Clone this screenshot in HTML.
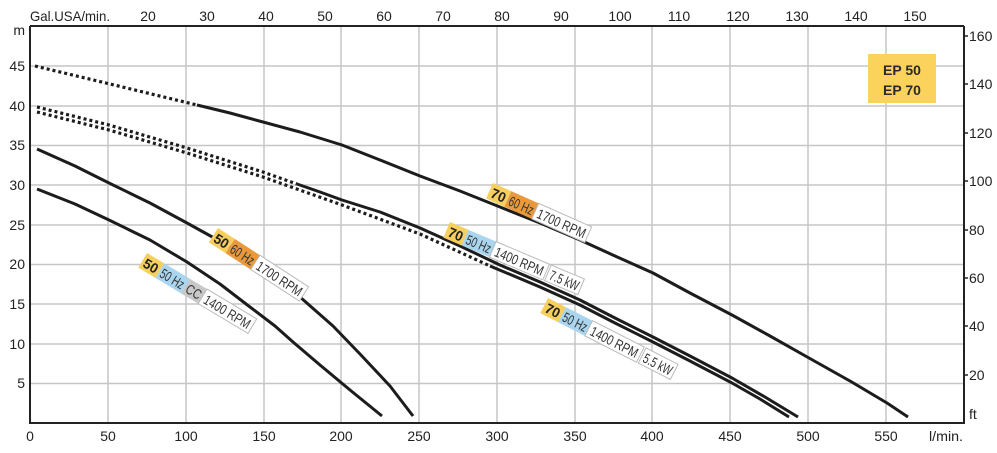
<!DOCTYPE html>
<html><head><meta charset="utf-8"><style>
html,body{margin:0;padding:0;background:#fff;}
svg{display:block;font-family:"Liberation Sans",sans-serif;}
</style></head><body>
<svg width="997" height="453" viewBox="0 0 997 453" xmlns="http://www.w3.org/2000/svg">
<g stroke="#c6c6c6" stroke-width="1.5">
<line x1="108" y1="26" x2="108" y2="423"/><line x1="186" y1="26" x2="186" y2="423"/><line x1="264" y1="26" x2="264" y2="423"/><line x1="341" y1="26" x2="341" y2="423"/><line x1="419" y1="26" x2="419" y2="423"/><line x1="497" y1="26" x2="497" y2="423"/><line x1="575" y1="26" x2="575" y2="423"/><line x1="652" y1="26" x2="652" y2="423"/><line x1="730" y1="26" x2="730" y2="423"/><line x1="808" y1="26" x2="808" y2="423"/><line x1="886" y1="26" x2="886" y2="423"/>
<line x1="30" y1="66" x2="964" y2="66"/><line x1="30" y1="106" x2="964" y2="106"/><line x1="30" y1="145.5" x2="964" y2="145.5"/><line x1="30" y1="185" x2="964" y2="185"/><line x1="30" y1="225" x2="964" y2="225"/><line x1="30" y1="264.5" x2="964" y2="264.5"/><line x1="30" y1="304" x2="964" y2="304"/><line x1="30" y1="344" x2="964" y2="344"/><line x1="30" y1="383.5" x2="964" y2="383.5"/>
</g>
<g stroke="#222" stroke-width="2" fill="none">
<polyline points="30,26 30,423 964,423 964,26"/>
<line x1="30" y1="26" x2="964" y2="26"/>
</g>
<g stroke="#222" stroke-width="1.5">
<line x1="964" y1="36" x2="968" y2="36"/><line x1="964" y1="84" x2="968" y2="84"/><line x1="964" y1="133" x2="968" y2="133"/><line x1="964" y1="181" x2="968" y2="181"/><line x1="964" y1="230" x2="968" y2="230"/><line x1="964" y1="278" x2="968" y2="278"/><line x1="964" y1="326" x2="968" y2="326"/><line x1="964" y1="375" x2="968" y2="375"/>
</g>
<g font-size="14" fill="#222">
<text x="30" y="21" textLength="80" lengthAdjust="spacingAndGlyphs">Gal.USA/min.</text>
<g text-anchor="middle">
<text x="148" y="21">20</text><text x="207" y="21">30</text><text x="266" y="21">40</text><text x="325" y="21">50</text><text x="384" y="21">60</text><text x="443" y="21">70</text><text x="502" y="21">80</text><text x="561" y="21">90</text><text x="620" y="21">100</text><text x="679" y="21">110</text><text x="738" y="21">120</text><text x="797" y="21">130</text><text x="856" y="21">140</text><text x="915" y="21">150</text>
<text x="30" y="441">0</text><text x="108" y="441">50</text><text x="186" y="441">100</text><text x="264" y="441">150</text><text x="341" y="441">200</text><text x="419" y="441">250</text><text x="497" y="441">300</text><text x="575" y="441">350</text><text x="652" y="441">400</text><text x="730" y="441">450</text><text x="808" y="441">500</text><text x="886" y="441">550</text>
</g>
<text x="929" y="441" textLength="34" lengthAdjust="spacingAndGlyphs">l/min.</text>
<g text-anchor="end">
<text x="25" y="35">m</text><text x="25" y="71">45</text><text x="25" y="111">40</text><text x="25" y="150">35</text><text x="25" y="190">30</text><text x="25" y="230">25</text><text x="25" y="269">20</text><text x="25" y="309">15</text><text x="25" y="349">10</text><text x="25" y="388">5</text>
</g>
<text x="969" y="41">160</text><text x="969" y="89">140</text><text x="969" y="138">120</text><text x="969" y="186">100</text><text x="969" y="235">80</text><text x="969" y="283">60</text><text x="969" y="331">40</text><text x="969" y="380">20</text><text x="969" y="419">ft</text>
</g>
<rect x="868" y="54" width="68" height="49" fill="#fbd35c"/>
<text x="902" y="75" font-size="14" font-weight="bold" text-anchor="middle" fill="#2a2a2a">EP 50</text>
<text x="902" y="95" font-size="14" font-weight="bold" text-anchor="middle" fill="#2a2a2a">EP 70</text>
<g fill="none" stroke="#1c1c1c" stroke-width="3" stroke-linejoin="round" stroke-linecap="butt">
<polyline stroke-dasharray="3,3" stroke-width="3.2" points="35,66 110,84 197,105"/>
<polyline points="197,105 230,113 263,122 300,132 342,145 380,160 420,176 460,191 500,207 540,223 580,240 615,256 653,273 690,293 732,315 770,336 809,358 850,381 887,403 908,417"/>
<polyline stroke-dasharray="3,3" stroke-width="3.2" points="37,107 109,125 187,148 263,172 297,184"/>
<polyline points="297,184 320,192 342,200 380,212 420,228 460,246 500,265 540,282 580,300 615,318 653,337 690,356 732,378 765,397 798,417"/>
<polyline stroke-dasharray="3,3" stroke-width="3.2" points="37,112 109,130 187,153 263,177 342,205 420,234 490,266"/>
<polyline points="490,266 540,287 580,305 615,323 653,342 690,361 732,383 760,399 789,417"/>
<polyline points="37,149 75,166 109,183 150,203 187,223 225,244 263,268 300,297 333,326 360,354 390,386 413,416"/>
<polyline points="37,189 75,204 109,220 150,240 187,262 220,284 250,307 275,326 293,342 320,365 350,390 382,416"/>
</g>
<g font-size="14" text-anchor="middle" fill="#333">
<g transform="translate(218,228) rotate(33)">
<rect x="0" y="0" width="20" height="17" fill="#f7cf5e"/><text x="10" y="14" font-weight="bold" fill="#222" textLength="15" lengthAdjust="spacingAndGlyphs">50</text>
<rect x="20" y="0" width="30" height="17" fill="#e9993a"/><text x="35" y="14" textLength="26" lengthAdjust="spacingAndGlyphs">60 Hz</text>
<rect x="50" y="0" width="58" height="17" fill="#fff" stroke="#bbb"/><text x="79" y="14" textLength="52" lengthAdjust="spacingAndGlyphs">1700 RPM</text>
</g>
<g transform="translate(147,253) rotate(31)">
<rect x="0" y="0" width="20" height="17" fill="#f7cf5e"/><text x="10" y="14" font-weight="bold" fill="#222" textLength="15" lengthAdjust="spacingAndGlyphs">50</text>
<rect x="20" y="0" width="30" height="17" fill="#a9d5ef"/><text x="35" y="14" textLength="26" lengthAdjust="spacingAndGlyphs">50 Hz</text>
<rect x="50" y="0" width="20" height="17" fill="#c8c8c8"/><text x="60" y="14" textLength="16" lengthAdjust="spacingAndGlyphs">CC</text>
<rect x="70" y="0" width="58" height="17" fill="#fff" stroke="#bbb"/><text x="99" y="14" textLength="52" lengthAdjust="spacingAndGlyphs">1400 RPM</text>
</g>
<g transform="translate(493,183) rotate(24)">
<rect x="0" y="0" width="20" height="17" fill="#f7cf5e"/><text x="10" y="14" font-weight="bold" fill="#222" textLength="15" lengthAdjust="spacingAndGlyphs">70</text>
<rect x="20" y="0" width="30" height="17" fill="#e9993a"/><text x="35" y="14" textLength="26" lengthAdjust="spacingAndGlyphs">60 Hz</text>
<rect x="50" y="0" width="58" height="17" fill="#fff" stroke="#bbb"/><text x="79" y="14" textLength="52" lengthAdjust="spacingAndGlyphs">1700 RPM</text>
</g>
<g transform="translate(450,222) rotate(23)">
<rect x="0" y="0" width="20" height="17" fill="#f7cf5e"/><text x="10" y="14" font-weight="bold" fill="#222" textLength="15" lengthAdjust="spacingAndGlyphs">70</text>
<rect x="20" y="0" width="30" height="17" fill="#a9d5ef"/><text x="35" y="14" textLength="26" lengthAdjust="spacingAndGlyphs">50 Hz</text>
<rect x="50" y="0" width="58" height="17" fill="#fff" stroke="#bbb"/><text x="79" y="14" textLength="52" lengthAdjust="spacingAndGlyphs">1400 RPM</text>
<rect x="110" y="0" width="36" height="17" fill="#fff" stroke="#bbb"/><text x="128" y="14" textLength="31" lengthAdjust="spacingAndGlyphs">7.5 kW</text>
</g>
<g transform="translate(548,298) rotate(27)">
<rect x="0" y="0" width="20" height="17" fill="#f7cf5e"/><text x="10" y="14" font-weight="bold" fill="#222" textLength="15" lengthAdjust="spacingAndGlyphs">70</text>
<rect x="20" y="0" width="30" height="17" fill="#a9d5ef"/><text x="35" y="14" textLength="26" lengthAdjust="spacingAndGlyphs">50 Hz</text>
<rect x="50" y="0" width="58" height="17" fill="#fff" stroke="#bbb"/><text x="79" y="14" textLength="52" lengthAdjust="spacingAndGlyphs">1400 RPM</text>
<rect x="110" y="0" width="36" height="17" fill="#fff" stroke="#bbb"/><text x="128" y="14" textLength="31" lengthAdjust="spacingAndGlyphs">5.5 kW</text>
</g>
</g>
</svg>
</body></html>
